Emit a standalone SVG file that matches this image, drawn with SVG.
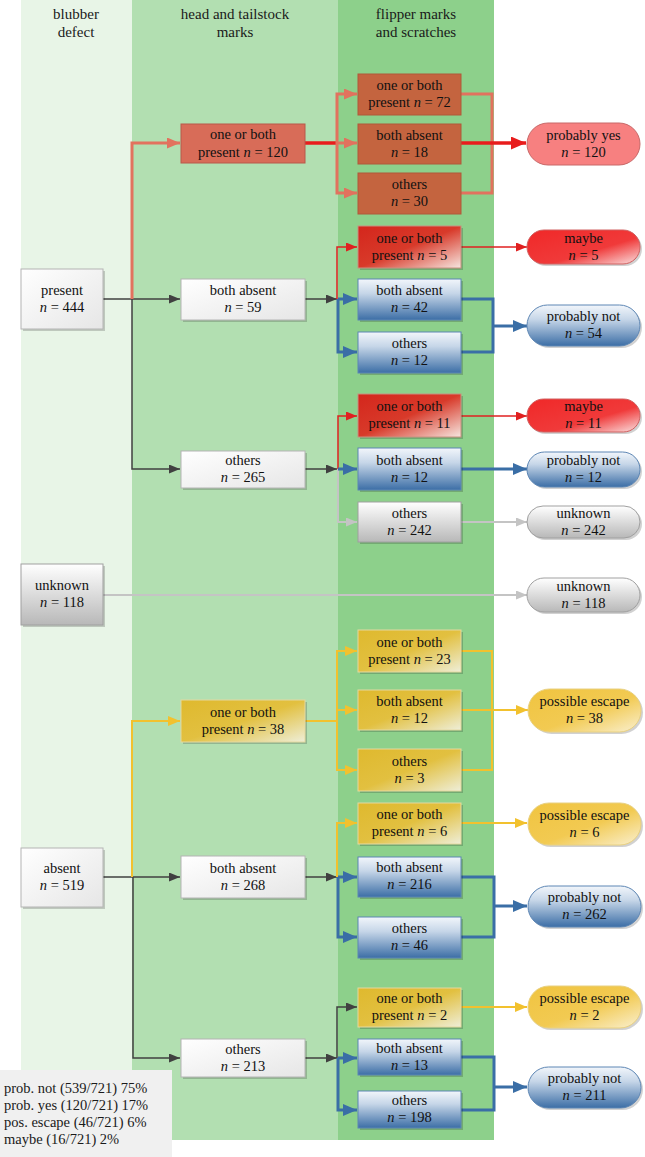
<svg xmlns="http://www.w3.org/2000/svg" width="645" height="1157" viewBox="0 0 645 1157">
<style>
.tx{font-family:"Liberation Serif","Times New Roman",serif;font-size:14.5px;fill:#111111;text-anchor:middle}
.h{font-family:"Liberation Serif","Times New Roman",serif;font-size:15px;fill:#1a1a1a;text-anchor:middle}
.lg{font-family:"Liberation Serif","Times New Roman",serif;font-size:14.5px;fill:#1a1a1a}
.i{font-style:italic}
.sd{fill:#000;opacity:0.18}
.nw{fill:url(#gWhite);stroke:#b4b4b4;stroke-width:1}
.ng{fill:url(#gGray);stroke:#a0a0a0;stroke-width:1}
.nb{fill:url(#gBlue);stroke:#5d86b4;stroke-width:1}
.nr{fill:url(#gRedN);stroke:#c89080;stroke-width:1}
.ny{fill:url(#gYellow);stroke:#e4d8a0;stroke-width:1}
.nbr{fill:#c4643f;stroke:#b0583a;stroke-width:1}
.ns{fill:#d86c58;stroke:#b8584a;stroke-width:1}
.pyes{fill:#f78080;stroke:#c86868;stroke-width:1}
.pmay{fill:url(#gMaybe);stroke:#d06060;stroke-width:1}
.pnot{fill:url(#gBlue);stroke:#5d86b4;stroke-width:1}
.punk{fill:url(#gGray);stroke:#a0a0a0;stroke-width:1}
.pesc{fill:url(#gEsc);stroke:#e8d080;stroke-width:1}
.dk{stroke:#404040;stroke-width:1.5;fill:none}
.sal{stroke:#e2725e;stroke-width:3;fill:none}
.rd{stroke:#e81c1c;stroke-width:3.5;fill:none}
.rt{stroke:#e02020;stroke-width:1.5;fill:none}
.bl{stroke:#3a6ea6;stroke-width:3;fill:none}
.gr{stroke:#c4c4c4;stroke-width:2;fill:none}
.yl{stroke:#f2c12e;stroke-width:2;fill:none}
</style>
<defs>
<linearGradient id="gWhite" x1="0" y1="0" x2="1" y2="1"><stop offset="0" stop-color="#ffffff"/><stop offset="1" stop-color="#e6e6e6"/></linearGradient>
<linearGradient id="gGray" x1="0" y1="0" x2="0" y2="1"><stop offset="0" stop-color="#ffffff"/><stop offset="1" stop-color="#b8b8b8"/></linearGradient>
<linearGradient id="gBlue" x1="0" y1="0" x2="0" y2="1"><stop offset="0" stop-color="#f2f6fb"/><stop offset="0.35" stop-color="#c6d6e8"/><stop offset="1" stop-color="#3c6ea6"/></linearGradient>
<linearGradient id="gRedN" x1="0" y1="0" x2="1" y2="1"><stop offset="0" stop-color="#d4261c"/><stop offset="0.5" stop-color="#d83a2a"/><stop offset="1" stop-color="#f6e6e0"/></linearGradient>
<linearGradient id="gYellow" x1="0" y1="0" x2="1" y2="1"><stop offset="0" stop-color="#dfb92e"/><stop offset="0.5" stop-color="#e2c040"/><stop offset="1" stop-color="#eeeed8"/></linearGradient>
<linearGradient id="gMaybe" x1="0" y1="0" x2="1" y2="1"><stop offset="0" stop-color="#f02828"/><stop offset="0.6" stop-color="#f03a3a"/><stop offset="1" stop-color="#fae0e0"/></linearGradient>
<linearGradient id="gEsc" x1="0" y1="0" x2="1" y2="1"><stop offset="0" stop-color="#f0c440"/><stop offset="0.55" stop-color="#f2ca52"/><stop offset="1" stop-color="#faf0d0"/></linearGradient>
<marker id="aDk" markerUnits="userSpaceOnUse" markerWidth="11" markerHeight="9" refX="11" refY="4.5" orient="auto"><path d="M0,0 L11,4.5 L0,9 z" fill="#404040"/></marker>
<marker id="aSal" markerUnits="userSpaceOnUse" markerWidth="13" markerHeight="11" refX="13" refY="5.5" orient="auto"><path d="M0,0 L13,5.5 L0,11 z" fill="#e2725e"/></marker>
<marker id="aRd" markerUnits="userSpaceOnUse" markerWidth="15" markerHeight="13" refX="15" refY="6.5" orient="auto"><path d="M0,0 L15,6.5 L0,13 z" fill="#e81c1c"/></marker>
<marker id="aRt" markerUnits="userSpaceOnUse" markerWidth="11" markerHeight="9" refX="11" refY="4.5" orient="auto"><path d="M0,0 L11,4.5 L0,9 z" fill="#e02020"/></marker>
<marker id="aBl" markerUnits="userSpaceOnUse" markerWidth="14" markerHeight="12" refX="14" refY="6" orient="auto"><path d="M0,0 L14,6 L0,12 z" fill="#3a6ea6"/></marker>
<marker id="aGr" markerUnits="userSpaceOnUse" markerWidth="11" markerHeight="9" refX="11" refY="4.5" orient="auto"><path d="M0,0 L11,4.5 L0,9 z" fill="#c4c4c4"/></marker>
<marker id="aYl" markerUnits="userSpaceOnUse" markerWidth="12" markerHeight="10" refX="12" refY="5" orient="auto"><path d="M0,0 L12,5 L0,10 z" fill="#f2c12e"/></marker>
</defs>
<rect x="0" y="0" width="645" height="1157" fill="#ffffff"/>
<g id="columns">
<rect x="21" y="0" width="111" height="1140" fill="#e8f5e7"/>
<rect x="132" y="0" width="206" height="1140" fill="#b2dfb1"/>
<rect x="338" y="0" width="156" height="1140" fill="#8dd08b"/>
<text class="h" x="76" y="19">blubber</text><text class="h" x="76" y="37">defect</text>
<text class="h" x="235" y="19">head and tailstock</text><text class="h" x="235" y="37">marks</text>
<text class="h" x="416" y="19">flipper marks</text><text class="h" x="416" y="37">and scratches</text>
</g>
<g id="connectors">
<path class="dk" d="M103,299 H180" marker-end="url(#aDk)"/>
<path class="dk" d="M132,299 V469 H180" marker-end="url(#aDk)"/>
<path class="sal" d="M132,299 V143 H180" marker-end="url(#aSal)"/>
<path class="rd" d="M305,143 H338"/>
<path class="sal" d="M337,143 V94 H357" marker-end="url(#aSal)"/>
<path class="sal" d="M337,143 V193 H357" marker-end="url(#aSal)"/>
<path class="sal" d="M336,143 H357" marker-end="url(#aSal)"/>
<path class="sal" d="M461,94 H492 V193 H461"/>
<path class="rd" d="M461,143 H526" marker-end="url(#aRd)"/>
<path class="dk" d="M305,299 H337" marker-end="url(#aDk)"/>
<path class="rt" d="M337,299 V247 H357" marker-end="url(#aRt)"/>
<path class="bl" d="M338,299 H357" marker-end="url(#aBl)"/>
<path class="bl" d="M338,299 V352 H357" marker-end="url(#aBl)"/>
<path class="bl" d="M461,299 H493 V352 H461"/>
<path class="bl" d="M493,326 H527" marker-end="url(#aBl)"/>
<path class="rt" d="M461,247 H527" marker-end="url(#aRt)"/>
<path class="dk" d="M305,469 H337" marker-end="url(#aDk)"/>
<path class="rt" d="M338,469 V416 H357" marker-end="url(#aRt)"/>
<path class="gr" d="M338,469 V522 H357" marker-end="url(#aGr)"/>
<path class="bl" d="M338,469 H357" marker-end="url(#aBl)"/>
<path class="rt" d="M461,416 H527" marker-end="url(#aRt)"/>
<path class="bl" d="M461,469 H527" marker-end="url(#aBl)"/>
<path class="gr" d="M461,522 H527" marker-end="url(#aGr)"/>
<path class="gr" d="M103,595 H527" marker-end="url(#aGr)"/>
<path class="dk" d="M103,877 H180" marker-end="url(#aDk)"/>
<path class="dk" d="M133,877 V1058 H180" marker-end="url(#aDk)"/>
<path class="yl" d="M132,877 V721 H180" marker-end="url(#aYl)"/>
<path class="yl" d="M305,721 H337"/>
<path class="yl" d="M337,721 V651 H357" marker-end="url(#aYl)"/>
<path class="yl" d="M337,721 V770 H357" marker-end="url(#aYl)"/>
<path class="yl" d="M337,710 H357" marker-end="url(#aYl)"/>
<path class="yl" d="M461,651 H492 V770 H461"/>
<path class="yl" d="M461,710 H528" marker-end="url(#aYl)"/>
<path class="dk" d="M305,877 H337" marker-end="url(#aDk)"/>
<path class="yl" d="M337,877 V823 H357" marker-end="url(#aYl)"/>
<path class="bl" d="M338,877 H357" marker-end="url(#aBl)"/>
<path class="bl" d="M338,877 V937 H357" marker-end="url(#aBl)"/>
<path class="yl" d="M461,823 H527" marker-end="url(#aYl)"/>
<path class="bl" d="M461,877 H494 V937 H461"/>
<path class="bl" d="M494,906 H527" marker-end="url(#aBl)"/>
<path class="dk" d="M305,1058 H337" marker-end="url(#aDk)"/>
<path class="dk" d="M337,1058 V1007 H357" marker-end="url(#aDk)"/>
<path class="bl" d="M338,1058 H357" marker-end="url(#aBl)"/>
<path class="bl" d="M338,1058 V1110 H357" marker-end="url(#aBl)"/>
<path class="yl" d="M461,1007 H527" marker-end="url(#aYl)"/>
<path class="bl" d="M461,1057 H494 V1110 H461"/>
<path class="bl" d="M494,1087 H527" marker-end="url(#aBl)"/>
</g>
<g id="b_present"><rect class="sd" x="23" y="271" width="82" height="60"/><rect class="nw" x="21" y="269" width="82" height="60"/><text class="tx" x="62" y="295">present</text><text class="tx" x="62" y="312"><tspan class="i">n</tspan> = 444</text></g>
<g id="b_unknown"><rect class="sd" x="23" y="566" width="82" height="61"/><rect class="ng" x="21" y="564" width="82" height="61"/><text class="tx" x="62" y="590">unknown</text><text class="tx" x="62" y="607"><tspan class="i">n</tspan> = 118</text></g>
<g id="b_absent"><rect class="sd" x="23" y="850" width="82" height="59"/><rect class="nw" x="21" y="848" width="82" height="59"/><text class="tx" x="62" y="873">absent</text><text class="tx" x="62" y="890"><tspan class="i">n</tspan> = 519</text></g>
<g id="h_120"><rect class="ns" x="181" y="124" width="124" height="39"/><text class="tx" x="243" y="139">one or both</text><text class="tx" x="243" y="157">present <tspan class="i">n</tspan> = 120</text></g>
<g id="h_59"><rect class="sd" x="183" y="281" width="124" height="41"/><rect class="nw" x="181" y="279" width="124" height="41"/><text class="tx" x="243" y="295">both absent</text><text class="tx" x="243" y="312"><tspan class="i">n</tspan> = 59</text></g>
<g id="h_265"><rect class="sd" x="183" y="453" width="124" height="37"/><rect class="nw" x="181" y="451" width="124" height="37"/><text class="tx" x="243" y="465">others</text><text class="tx" x="243" y="482"><tspan class="i">n</tspan> = 265</text></g>
<g id="h_38"><rect class="sd" x="183" y="702" width="124" height="42"/><rect class="ny" x="181" y="700" width="124" height="42"/><text class="tx" x="243" y="717">one or both</text><text class="tx" x="243" y="734">present <tspan class="i">n</tspan> = 38</text></g>
<g id="h_268"><rect class="sd" x="183" y="858" width="124" height="42"/><rect class="nw" x="181" y="856" width="124" height="42"/><text class="tx" x="243" y="873">both absent</text><text class="tx" x="243" y="890"><tspan class="i">n</tspan> = 268</text></g>
<g id="h_213"><rect class="sd" x="183" y="1041" width="124" height="38"/><rect class="nw" x="181" y="1039" width="124" height="38"/><text class="tx" x="243" y="1054">others</text><text class="tx" x="243" y="1071"><tspan class="i">n</tspan> = 213</text></g>
<g id="f_72"><rect class="nbr" x="358" y="74" width="103" height="41"/><text class="tx" x="409.5" y="90">one or both</text><text class="tx" x="409.5" y="107">present <tspan class="i">n</tspan> = 72</text></g>
<g id="f_18"><rect class="nbr" x="358" y="124" width="103" height="40"/><text class="tx" x="409.5" y="140">both absent</text><text class="tx" x="409.5" y="157"><tspan class="i">n</tspan> = 18</text></g>
<g id="f_30"><rect class="nbr" x="358" y="173" width="103" height="41"/><text class="tx" x="409.5" y="189">others</text><text class="tx" x="409.5" y="206"><tspan class="i">n</tspan> = 30</text></g>
<g id="f_5"><rect class="sd" x="360" y="228" width="103" height="42"/><rect class="nr" x="358" y="226" width="103" height="42"/><text class="tx" x="409.5" y="243">one or both</text><text class="tx" x="409.5" y="260">present <tspan class="i">n</tspan> = 5</text></g>
<g id="f_42"><rect class="sd" x="360" y="281" width="103" height="41"/><rect class="nb" x="358" y="279" width="103" height="41"/><text class="tx" x="409.5" y="295">both absent</text><text class="tx" x="409.5" y="312"><tspan class="i">n</tspan> = 42</text></g>
<g id="f_12a"><rect class="sd" x="360" y="334" width="103" height="41"/><rect class="nb" x="358" y="332" width="103" height="41"/><text class="tx" x="409.5" y="348">others</text><text class="tx" x="409.5" y="365"><tspan class="i">n</tspan> = 12</text></g>
<g id="f_11"><rect class="sd" x="360" y="396" width="103" height="43"/><rect class="nr" x="358" y="394" width="103" height="43"/><text class="tx" x="409.5" y="411">one or both</text><text class="tx" x="409.5" y="428">present <tspan class="i">n</tspan> = 11</text></g>
<g id="f_12b"><rect class="sd" x="360" y="450" width="103" height="42"/><rect class="nb" x="358" y="448" width="103" height="42"/><text class="tx" x="409.5" y="465">both absent</text><text class="tx" x="409.5" y="482"><tspan class="i">n</tspan> = 12</text></g>
<g id="f_242"><rect class="sd" x="360" y="504" width="103" height="40"/><rect class="ng" x="358" y="502" width="103" height="40"/><text class="tx" x="409.5" y="518">others</text><text class="tx" x="409.5" y="535"><tspan class="i">n</tspan> = 242</text></g>
<g id="f_23"><rect class="sd" x="360" y="632" width="103" height="42"/><rect class="ny" x="358" y="630" width="103" height="42"/><text class="tx" x="409.5" y="647">one or both</text><text class="tx" x="409.5" y="664">present <tspan class="i">n</tspan> = 23</text></g>
<g id="f_12c"><rect class="sd" x="360" y="692" width="103" height="40"/><rect class="ny" x="358" y="690" width="103" height="40"/><text class="tx" x="409.5" y="706">both absent</text><text class="tx" x="409.5" y="723"><tspan class="i">n</tspan> = 12</text></g>
<g id="f_3"><rect class="sd" x="360" y="751" width="103" height="42"/><rect class="ny" x="358" y="749" width="103" height="42"/><text class="tx" x="409.5" y="766">others</text><text class="tx" x="409.5" y="783"><tspan class="i">n</tspan> = 3</text></g>
<g id="f_6"><rect class="sd" x="360" y="805" width="103" height="41"/><rect class="ny" x="358" y="803" width="103" height="41"/><text class="tx" x="409.5" y="819">one or both</text><text class="tx" x="409.5" y="836">present <tspan class="i">n</tspan> = 6</text></g>
<g id="f_216"><rect class="sd" x="360" y="859" width="103" height="40"/><rect class="nb" x="358" y="857" width="103" height="40"/><text class="tx" x="409.5" y="872">both absent</text><text class="tx" x="409.5" y="889"><tspan class="i">n</tspan> = 216</text></g>
<g id="f_46"><rect class="sd" x="360" y="919" width="103" height="41"/><rect class="nb" x="358" y="917" width="103" height="41"/><text class="tx" x="409.5" y="933">others</text><text class="tx" x="409.5" y="950"><tspan class="i">n</tspan> = 46</text></g>
<g id="f_2"><rect class="sd" x="360" y="990" width="103" height="39"/><rect class="ny" x="358" y="988" width="103" height="39"/><text class="tx" x="409.5" y="1003">one or both</text><text class="tx" x="409.5" y="1020">present <tspan class="i">n</tspan> = 2</text></g>
<g id="f_13"><rect class="sd" x="360" y="1041" width="103" height="36"/><rect class="nb" x="358" y="1039" width="103" height="36"/><text class="tx" x="409.5" y="1053">both absent</text><text class="tx" x="409.5" y="1070"><tspan class="i">n</tspan> = 13</text></g>
<g id="f_198"><rect class="sd" x="360" y="1093" width="103" height="37"/><rect class="nb" x="358" y="1091" width="103" height="37"/><text class="tx" x="409.5" y="1105">others</text><text class="tx" x="409.5" y="1122"><tspan class="i">n</tspan> = 198</text></g>
<g id="o_yes"><rect class="pyes" x="527" y="123" width="113" height="42" rx="21"/><text class="tx" x="583.5" y="140">probably yes</text><text class="tx" x="583.5" y="157"><tspan class="i">n</tspan> = 120</text></g>
<g id="o_maybe5"><rect class="sd" x="529" y="232" width="113" height="34" rx="17"/><rect class="pmay" x="527" y="230" width="113" height="34" rx="17"/><text class="tx" x="583.5" y="243">maybe</text><text class="tx" x="583.5" y="260"><tspan class="i">n</tspan> = 5</text></g>
<g id="o_not54"><rect class="sd" x="529" y="307" width="113" height="41" rx="20.5"/><rect class="pnot" x="527" y="305" width="113" height="41" rx="20.5"/><text class="tx" x="583.5" y="321">probably not</text><text class="tx" x="583.5" y="338"><tspan class="i">n</tspan> = 54</text></g>
<g id="o_maybe11"><rect class="sd" x="529" y="401" width="113" height="33" rx="16.5"/><rect class="pmay" x="527" y="399" width="113" height="33" rx="16.5"/><text class="tx" x="583.5" y="411">maybe</text><text class="tx" x="583.5" y="428"><tspan class="i">n</tspan> = 11</text></g>
<g id="o_not12"><rect class="sd" x="529" y="454" width="113" height="35" rx="17.5"/><rect class="pnot" x="527" y="452" width="113" height="35" rx="17.5"/><text class="tx" x="583.5" y="465">probably not</text><text class="tx" x="583.5" y="482"><tspan class="i">n</tspan> = 12</text></g>
<g id="o_unk242"><rect class="sd" x="529" y="508" width="113" height="32" rx="16"/><rect class="punk" x="527" y="506" width="113" height="32" rx="16"/><text class="tx" x="583.5" y="518">unknown</text><text class="tx" x="583.5" y="535"><tspan class="i">n</tspan> = 242</text></g>
<g id="o_unk118"><rect class="sd" x="529" y="580" width="113" height="34" rx="17"/><rect class="punk" x="527" y="578" width="113" height="34" rx="17"/><text class="tx" x="583.5" y="591">unknown</text><text class="tx" x="583.5" y="608"><tspan class="i">n</tspan> = 118</text></g>
<g id="o_esc38"><rect class="sd" x="530" y="691" width="113" height="43" rx="21.5"/><rect class="pesc" x="528" y="689" width="113" height="43" rx="21.5"/><text class="tx" x="584.5" y="706">possible escape</text><text class="tx" x="584.5" y="723"><tspan class="i">n</tspan> = 38</text></g>
<g id="o_esc6"><rect class="sd" x="530" y="805" width="113" height="42" rx="21"/><rect class="pesc" x="528" y="803" width="113" height="42" rx="21"/><text class="tx" x="584.5" y="820">possible escape</text><text class="tx" x="584.5" y="837"><tspan class="i">n</tspan> = 6</text></g>
<g id="o_not262"><rect class="sd" x="530" y="888" width="113" height="41" rx="20.5"/><rect class="pnot" x="528" y="886" width="113" height="41" rx="20.5"/><text class="tx" x="584.5" y="902">probably not</text><text class="tx" x="584.5" y="919"><tspan class="i">n</tspan> = 262</text></g>
<g id="o_esc2"><rect class="sd" x="530" y="988" width="113" height="42" rx="21"/><rect class="pesc" x="528" y="986" width="113" height="42" rx="21"/><text class="tx" x="584.5" y="1003">possible escape</text><text class="tx" x="584.5" y="1020"><tspan class="i">n</tspan> = 2</text></g>
<g id="o_not211"><rect class="sd" x="530" y="1069" width="113" height="41" rx="20.5"/><rect class="pnot" x="528" y="1067" width="113" height="41" rx="20.5"/><text class="tx" x="584.5" y="1083">probably not</text><text class="tx" x="584.5" y="1100"><tspan class="i">n</tspan> = 211</text></g>
<g id="legend"><rect x="0" y="1070" width="172" height="87" fill="#f0f0f0"/>
<text class="lg" x="4" y="1093">prob. not (539/721) 75%</text>
<text class="lg" x="4" y="1110">prob. yes (120/721) 17%</text>
<text class="lg" x="4" y="1127">pos. escape (46/721) 6%</text>
<text class="lg" x="4" y="1144">maybe (16/721) 2%</text>
</g>
</svg>
